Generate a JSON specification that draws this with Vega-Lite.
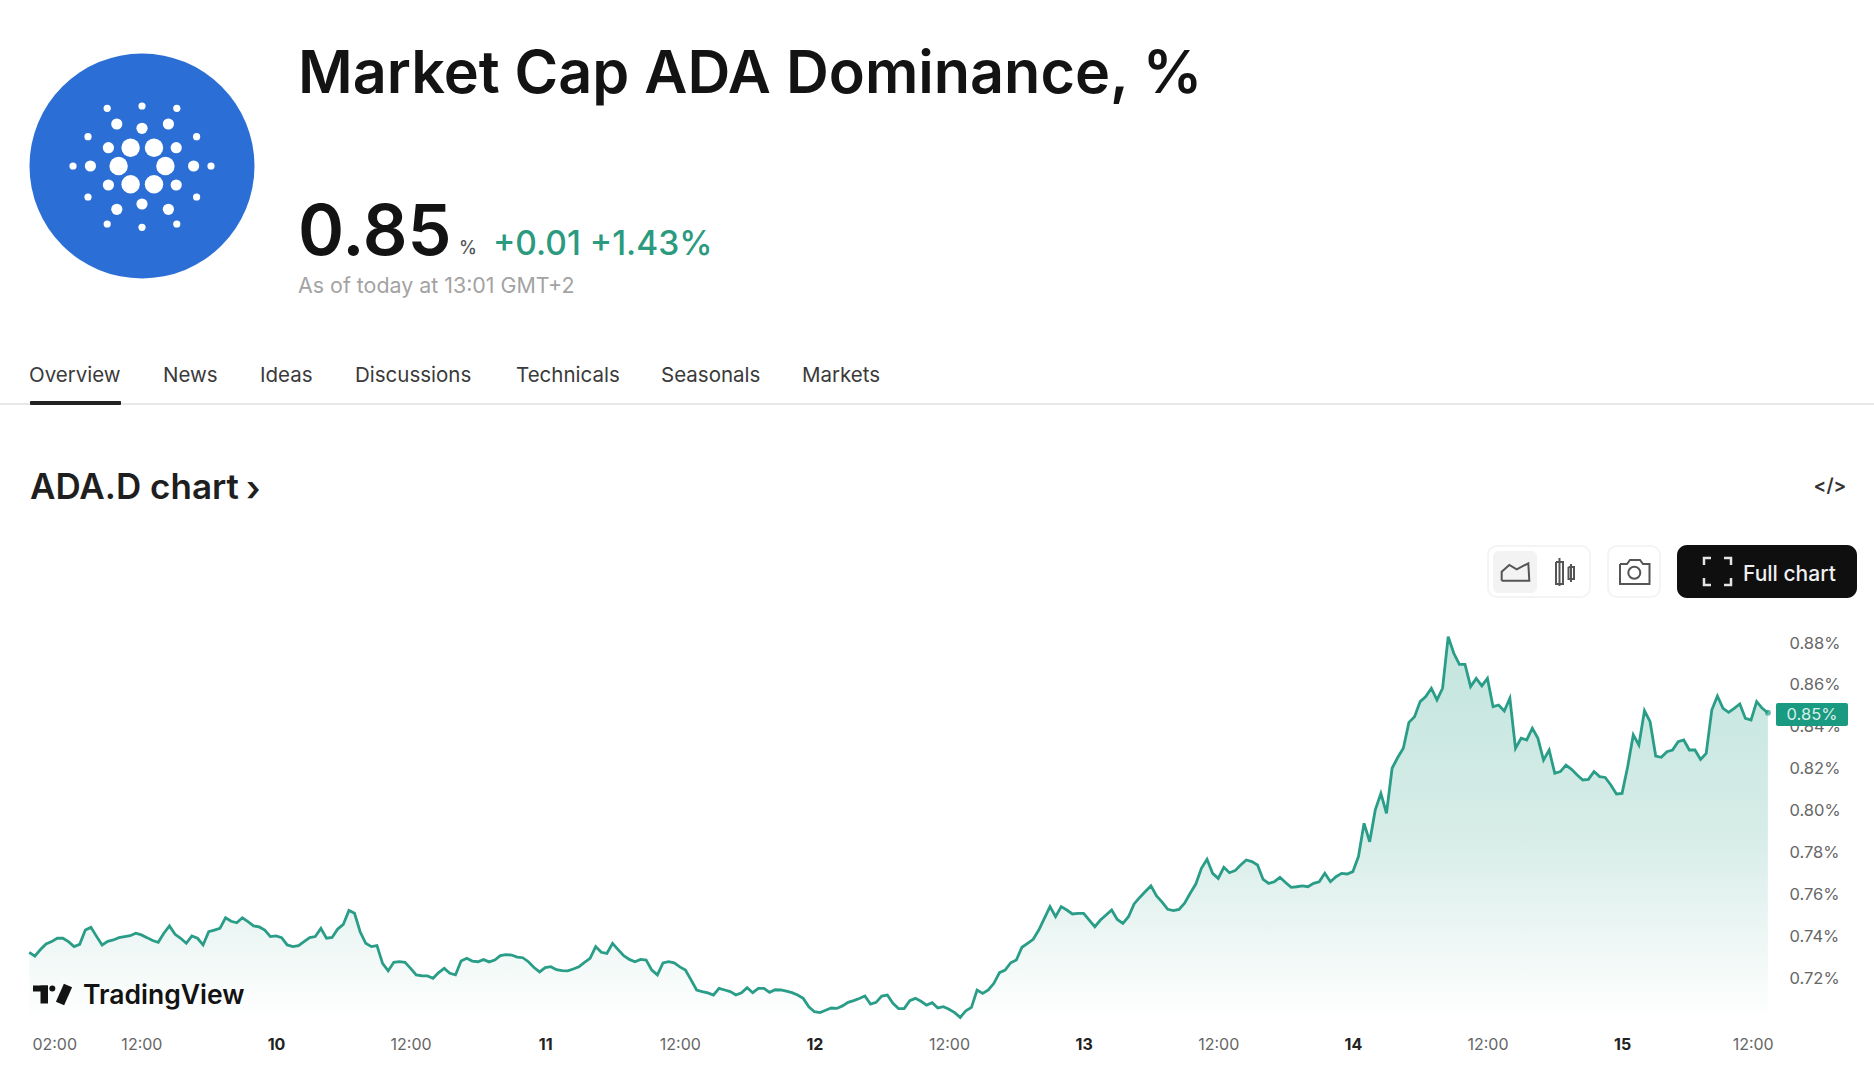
{
  "$schema": "https://vega.github.io/schema/vega-lite/v6.json",
  "width": 1874,
  "height": 1080,
  "autosize": {"type": "fit", "contains": "padding"},
  "padding": 0,
  "background": "#ffffff",
  "config": {"view": {"stroke": null}, "font": "Inter"},
  "datasets": {
    "series": [
      {"t":"2024-10-09T02:00Z","v":0.7323},{"t":"2024-10-09T02:30Z","v":0.7305},{"t":"2024-10-09T03:00Z","v":0.7336},{"t":"2024-10-09T03:30Z","v":0.7363},{"t":"2024-10-09T04:00Z","v":0.7374},{"t":"2024-10-09T04:30Z","v":0.7390},{"t":"2024-10-09T05:00Z","v":0.7390},{"t":"2024-10-09T05:30Z","v":0.7374},{"t":"2024-10-09T06:00Z","v":0.7350},{"t":"2024-10-09T06:30Z","v":0.7361},{"t":"2024-10-09T07:00Z","v":0.7429},{"t":"2024-10-09T07:30Z","v":0.7442},{"t":"2024-10-09T08:00Z","v":0.7399},{"t":"2024-10-09T08:30Z","v":0.7358},{"t":"2024-10-09T09:00Z","v":0.7375},{"t":"2024-10-09T09:30Z","v":0.7382},{"t":"2024-10-09T10:00Z","v":0.7393},{"t":"2024-10-09T10:30Z","v":0.7398},{"t":"2024-10-09T11:00Z","v":0.7402},{"t":"2024-10-09T11:30Z","v":0.7414},{"t":"2024-10-09T12:00Z","v":0.7406},{"t":"2024-10-09T12:30Z","v":0.7393},{"t":"2024-10-09T13:00Z","v":0.7379},{"t":"2024-10-09T13:30Z","v":0.7371},{"t":"2024-10-09T14:00Z","v":0.7414},{"t":"2024-10-09T14:30Z","v":0.7449},{"t":"2024-10-09T15:00Z","v":0.7409},{"t":"2024-10-09T15:30Z","v":0.7390},{"t":"2024-10-09T16:00Z","v":0.7366},{"t":"2024-10-09T16:30Z","v":0.7401},{"t":"2024-10-09T17:00Z","v":0.7390},{"t":"2024-10-09T17:30Z","v":0.7358},{"t":"2024-10-09T18:00Z","v":0.7421},{"t":"2024-10-09T18:30Z","v":0.7429},{"t":"2024-10-09T19:00Z","v":0.7437},{"t":"2024-10-09T19:30Z","v":0.7488},{"t":"2024-10-09T20:00Z","v":0.7471},{"t":"2024-10-09T20:30Z","v":0.7464},{"t":"2024-10-09T21:00Z","v":0.7488},{"t":"2024-10-09T21:30Z","v":0.7469},{"t":"2024-10-09T22:00Z","v":0.7449},{"t":"2024-10-09T22:30Z","v":0.7444},{"t":"2024-10-09T23:00Z","v":0.7429},{"t":"2024-10-09T23:30Z","v":0.7398},
      {"t":"2024-10-10T00:00Z","v":0.7401},{"t":"2024-10-10T00:30Z","v":0.7393},{"t":"2024-10-10T01:00Z","v":0.7358},{"t":"2024-10-10T01:30Z","v":0.7350},{"t":"2024-10-10T02:00Z","v":0.7355},{"t":"2024-10-10T02:30Z","v":0.7374},{"t":"2024-10-10T03:00Z","v":0.7393},{"t":"2024-10-10T03:30Z","v":0.7398},{"t":"2024-10-10T04:00Z","v":0.7437},{"t":"2024-10-10T04:30Z","v":0.7390},{"t":"2024-10-10T05:00Z","v":0.7394},{"t":"2024-10-10T05:30Z","v":0.7434},{"t":"2024-10-10T06:00Z","v":0.7456},{"t":"2024-10-10T06:30Z","v":0.7523},{"t":"2024-10-10T07:00Z","v":0.7509},{"t":"2024-10-10T07:30Z","v":0.7421},{"t":"2024-10-10T08:00Z","v":0.7366},{"t":"2024-10-10T08:30Z","v":0.7350},{"t":"2024-10-10T09:00Z","v":0.7355},{"t":"2024-10-10T09:30Z","v":0.7270},{"t":"2024-10-10T10:00Z","v":0.7234},{"t":"2024-10-10T10:30Z","v":0.7275},{"t":"2024-10-10T11:00Z","v":0.7278},{"t":"2024-10-10T11:30Z","v":0.7275},{"t":"2024-10-10T12:00Z","v":0.7246},{"t":"2024-10-10T12:30Z","v":0.7215},{"t":"2024-10-10T13:00Z","v":0.7211},{"t":"2024-10-10T13:30Z","v":0.7210},{"t":"2024-10-10T14:00Z","v":0.7199},{"t":"2024-10-10T14:30Z","v":0.7226},{"t":"2024-10-10T15:00Z","v":0.7246},{"t":"2024-10-10T15:30Z","v":0.7223},{"t":"2024-10-10T16:00Z","v":0.7215},{"t":"2024-10-10T16:30Z","v":0.7281},{"t":"2024-10-10T17:00Z","v":0.7294},{"t":"2024-10-10T17:30Z","v":0.7281},{"t":"2024-10-10T18:00Z","v":0.7278},{"t":"2024-10-10T18:30Z","v":0.7288},{"t":"2024-10-10T19:00Z","v":0.7277},{"t":"2024-10-10T19:30Z","v":0.7286},{"t":"2024-10-10T20:00Z","v":0.7307},{"t":"2024-10-10T20:30Z","v":0.7312},{"t":"2024-10-10T21:00Z","v":0.7310},{"t":"2024-10-10T21:30Z","v":0.7300},{"t":"2024-10-10T22:00Z","v":0.7297},{"t":"2024-10-10T22:30Z","v":0.7278},{"t":"2024-10-10T23:00Z","v":0.7250},{"t":"2024-10-10T23:30Z","v":0.7229},
      {"t":"2024-10-11T00:00Z","v":0.7250},{"t":"2024-10-11T00:30Z","v":0.7254},{"t":"2024-10-11T01:00Z","v":0.7240},{"t":"2024-10-11T01:30Z","v":0.7235},{"t":"2024-10-11T02:00Z","v":0.7234},{"t":"2024-10-11T02:30Z","v":0.7243},{"t":"2024-10-11T03:00Z","v":0.7254},{"t":"2024-10-11T03:30Z","v":0.7275},{"t":"2024-10-11T04:00Z","v":0.7294},{"t":"2024-10-11T04:30Z","v":0.7350},{"t":"2024-10-11T05:00Z","v":0.7323},{"t":"2024-10-11T05:30Z","v":0.7318},{"t":"2024-10-11T06:00Z","v":0.7366},{"t":"2024-10-11T06:30Z","v":0.7336},{"t":"2024-10-11T07:00Z","v":0.7307},{"t":"2024-10-11T07:30Z","v":0.7289},{"t":"2024-10-11T08:00Z","v":0.7278},{"t":"2024-10-11T08:30Z","v":0.7289},{"t":"2024-10-11T09:00Z","v":0.7286},{"t":"2024-10-11T09:30Z","v":0.7238},{"t":"2024-10-11T10:00Z","v":0.7215},{"t":"2024-10-11T10:30Z","v":0.7272},{"t":"2024-10-11T11:00Z","v":0.7278},{"t":"2024-10-11T11:30Z","v":0.7273},{"t":"2024-10-11T12:00Z","v":0.7253},{"t":"2024-10-11T12:30Z","v":0.7238},{"t":"2024-10-11T13:00Z","v":0.7191},{"t":"2024-10-11T13:30Z","v":0.7143},{"t":"2024-10-11T14:00Z","v":0.7135},{"t":"2024-10-11T14:30Z","v":0.7129},{"t":"2024-10-11T15:00Z","v":0.7119},{"t":"2024-10-11T15:30Z","v":0.7151},{"t":"2024-10-11T16:00Z","v":0.7143},{"t":"2024-10-11T16:30Z","v":0.7135},{"t":"2024-10-11T17:00Z","v":0.7119},{"t":"2024-10-11T17:30Z","v":0.7130},{"t":"2024-10-11T18:00Z","v":0.7154},{"t":"2024-10-11T18:30Z","v":0.7130},{"t":"2024-10-11T19:00Z","v":0.7151},{"t":"2024-10-11T19:30Z","v":0.7151},{"t":"2024-10-11T20:00Z","v":0.7132},{"t":"2024-10-11T20:30Z","v":0.7144},{"t":"2024-10-11T21:00Z","v":0.7143},{"t":"2024-10-11T21:30Z","v":0.7137},{"t":"2024-10-11T22:00Z","v":0.7130},{"t":"2024-10-11T22:30Z","v":0.7119},{"t":"2024-10-11T23:00Z","v":0.7103},{"t":"2024-10-11T23:30Z","v":0.7063},
      {"t":"2024-10-12T00:00Z","v":0.7039},{"t":"2024-10-12T00:30Z","v":0.7035},{"t":"2024-10-12T01:00Z","v":0.7046},{"t":"2024-10-12T01:30Z","v":0.7057},{"t":"2024-10-12T02:00Z","v":0.7055},{"t":"2024-10-12T02:30Z","v":0.7067},{"t":"2024-10-12T03:00Z","v":0.7084},{"t":"2024-10-12T03:30Z","v":0.7092},{"t":"2024-10-12T04:00Z","v":0.7102},{"t":"2024-10-12T04:30Z","v":0.7114},{"t":"2024-10-12T05:00Z","v":0.7076},{"t":"2024-10-12T05:30Z","v":0.7084},{"t":"2024-10-12T06:00Z","v":0.7114},{"t":"2024-10-12T06:30Z","v":0.7119},{"t":"2024-10-12T07:00Z","v":0.7079},{"t":"2024-10-12T07:30Z","v":0.7054},{"t":"2024-10-12T08:00Z","v":0.7054},{"t":"2024-10-12T08:30Z","v":0.7092},{"t":"2024-10-12T09:00Z","v":0.7103},{"t":"2024-10-12T09:30Z","v":0.7089},{"t":"2024-10-12T10:00Z","v":0.7071},{"t":"2024-10-12T10:30Z","v":0.7082},{"t":"2024-10-12T11:00Z","v":0.7057},{"t":"2024-10-12T11:30Z","v":0.7063},{"t":"2024-10-12T12:00Z","v":0.7051},{"t":"2024-10-12T12:30Z","v":0.7035},{"t":"2024-10-12T13:00Z","v":0.7012},{"t":"2024-10-12T13:30Z","v":0.7044},{"t":"2024-10-12T14:00Z","v":0.7060},{"t":"2024-10-12T14:30Z","v":0.7143},{"t":"2024-10-12T15:00Z","v":0.7127},{"t":"2024-10-12T15:30Z","v":0.7143},{"t":"2024-10-12T16:00Z","v":0.7175},{"t":"2024-10-12T16:30Z","v":0.7226},{"t":"2024-10-12T17:00Z","v":0.7238},{"t":"2024-10-12T17:30Z","v":0.7273},{"t":"2024-10-12T18:00Z","v":0.7286},{"t":"2024-10-12T18:30Z","v":0.7347},{"t":"2024-10-12T19:00Z","v":0.7366},{"t":"2024-10-12T19:30Z","v":0.7385},{"t":"2024-10-12T20:00Z","v":0.7429},{"t":"2024-10-12T20:30Z","v":0.7485},{"t":"2024-10-12T21:00Z","v":0.7541},{"t":"2024-10-12T21:30Z","v":0.7493},{"t":"2024-10-12T22:00Z","v":0.7541},{"t":"2024-10-12T22:30Z","v":0.7525},{"t":"2024-10-12T23:00Z","v":0.7506},{"t":"2024-10-12T23:30Z","v":0.7509},
      {"t":"2024-10-13T00:00Z","v":0.7509},{"t":"2024-10-13T00:30Z","v":0.7477},{"t":"2024-10-13T01:00Z","v":0.7445},{"t":"2024-10-13T01:30Z","v":0.7477},{"t":"2024-10-13T02:00Z","v":0.7501},{"t":"2024-10-13T02:30Z","v":0.7525},{"t":"2024-10-13T03:00Z","v":0.7480},{"t":"2024-10-13T03:30Z","v":0.7461},{"t":"2024-10-13T04:00Z","v":0.7493},{"t":"2024-10-13T04:30Z","v":0.7554},{"t":"2024-10-13T05:00Z","v":0.7585},{"t":"2024-10-13T05:30Z","v":0.7613},{"t":"2024-10-13T06:00Z","v":0.7640},{"t":"2024-10-13T06:30Z","v":0.7592},{"t":"2024-10-13T07:00Z","v":0.7563},{"t":"2024-10-13T07:30Z","v":0.7528},{"t":"2024-10-13T08:00Z","v":0.7522},{"t":"2024-10-13T08:30Z","v":0.7528},{"t":"2024-10-13T09:00Z","v":0.7557},{"t":"2024-10-13T09:30Z","v":0.7605},{"t":"2024-10-13T10:00Z","v":0.7649},{"t":"2024-10-13T10:30Z","v":0.7724},{"t":"2024-10-13T11:00Z","v":0.7767},{"t":"2024-10-13T11:30Z","v":0.7700},{"t":"2024-10-13T12:00Z","v":0.7676},{"t":"2024-10-13T12:30Z","v":0.7729},{"t":"2024-10-13T13:00Z","v":0.7703},{"t":"2024-10-13T13:30Z","v":0.7713},{"t":"2024-10-13T14:00Z","v":0.7740},{"t":"2024-10-13T14:30Z","v":0.7764},{"t":"2024-10-13T15:00Z","v":0.7756},{"t":"2024-10-13T15:30Z","v":0.7740},{"t":"2024-10-13T16:00Z","v":0.7671},{"t":"2024-10-13T16:30Z","v":0.7652},{"t":"2024-10-13T17:00Z","v":0.7660},{"t":"2024-10-13T17:30Z","v":0.7681},{"t":"2024-10-13T18:00Z","v":0.7656},{"t":"2024-10-13T18:30Z","v":0.7633},{"t":"2024-10-13T19:00Z","v":0.7636},{"t":"2024-10-13T19:30Z","v":0.7640},{"t":"2024-10-13T20:00Z","v":0.7636},{"t":"2024-10-13T20:30Z","v":0.7652},{"t":"2024-10-13T21:00Z","v":0.7660},{"t":"2024-10-13T21:30Z","v":0.7700},{"t":"2024-10-13T22:00Z","v":0.7660},{"t":"2024-10-13T22:30Z","v":0.7684},{"t":"2024-10-13T23:00Z","v":0.7700},{"t":"2024-10-13T23:30Z","v":0.7697},
      {"t":"2024-10-14T00:00Z","v":0.7708},{"t":"2024-10-14T00:30Z","v":0.7780},{"t":"2024-10-14T01:00Z","v":0.7939},{"t":"2024-10-14T01:30Z","v":0.7851},{"t":"2024-10-14T02:00Z","v":0.8003},{"t":"2024-10-14T02:30Z","v":0.8082},{"t":"2024-10-14T03:00Z","v":0.7987},{"t":"2024-10-14T03:30Z","v":0.8202},{"t":"2024-10-14T04:00Z","v":0.8253},{"t":"2024-10-14T04:30Z","v":0.8297},{"t":"2024-10-14T05:00Z","v":0.8421},{"t":"2024-10-14T05:30Z","v":0.8448},{"t":"2024-10-14T06:00Z","v":0.8520},{"t":"2024-10-14T06:30Z","v":0.8544},{"t":"2024-10-14T07:00Z","v":0.8584},{"t":"2024-10-14T07:30Z","v":0.8528},{"t":"2024-10-14T08:00Z","v":0.8584},{"t":"2024-10-14T08:30Z","v":0.8830},{"t":"2024-10-14T09:00Z","v":0.8751},{"t":"2024-10-14T09:30Z","v":0.8698},{"t":"2024-10-14T10:00Z","v":0.8698},{"t":"2024-10-14T10:30Z","v":0.8592},{"t":"2024-10-14T11:00Z","v":0.8631},{"t":"2024-10-14T11:30Z","v":0.8595},{"t":"2024-10-14T12:00Z","v":0.8631},{"t":"2024-10-14T12:30Z","v":0.8496},{"t":"2024-10-14T13:00Z","v":0.8504},{"t":"2024-10-14T13:30Z","v":0.8475},{"t":"2024-10-14T14:00Z","v":0.8536},{"t":"2024-10-14T14:30Z","v":0.8297},{"t":"2024-10-14T15:00Z","v":0.8345},{"t":"2024-10-14T15:30Z","v":0.8337},{"t":"2024-10-14T16:00Z","v":0.8393},{"t":"2024-10-14T16:30Z","v":0.8345},{"t":"2024-10-14T17:00Z","v":0.8241},{"t":"2024-10-14T17:30Z","v":0.8289},{"t":"2024-10-14T18:00Z","v":0.8178},{"t":"2024-10-14T18:30Z","v":0.8186},{"t":"2024-10-14T19:00Z","v":0.8217},{"t":"2024-10-14T19:30Z","v":0.8197},{"t":"2024-10-14T20:00Z","v":0.8170},{"t":"2024-10-14T20:30Z","v":0.8146},{"t":"2024-10-14T21:00Z","v":0.8149},{"t":"2024-10-14T21:30Z","v":0.8186},{"t":"2024-10-14T22:00Z","v":0.8162},{"t":"2024-10-14T22:30Z","v":0.8158},{"t":"2024-10-14T23:00Z","v":0.8122},{"t":"2024-10-14T23:30Z","v":0.8079},
      {"t":"2024-10-15T00:00Z","v":0.8082},{"t":"2024-10-15T00:30Z","v":0.8209},{"t":"2024-10-15T01:00Z","v":0.8361},{"t":"2024-10-15T01:30Z","v":0.8313},{"t":"2024-10-15T02:00Z","v":0.8477},{"t":"2024-10-15T02:30Z","v":0.8424},{"t":"2024-10-15T03:00Z","v":0.8260},{"t":"2024-10-15T03:30Z","v":0.8254},{"t":"2024-10-15T04:00Z","v":0.8281},{"t":"2024-10-15T04:30Z","v":0.8289},{"t":"2024-10-15T05:00Z","v":0.8329},{"t":"2024-10-15T05:30Z","v":0.8337},{"t":"2024-10-15T06:00Z","v":0.8289},{"t":"2024-10-15T06:30Z","v":0.8289},{"t":"2024-10-15T07:00Z","v":0.8244},{"t":"2024-10-15T07:30Z","v":0.8273},{"t":"2024-10-15T08:00Z","v":0.8480},{"t":"2024-10-15T08:30Z","v":0.8547},{"t":"2024-10-15T09:00Z","v":0.8488},{"t":"2024-10-15T09:30Z","v":0.8469},{"t":"2024-10-15T10:00Z","v":0.8488},{"t":"2024-10-15T10:30Z","v":0.8509},{"t":"2024-10-15T11:00Z","v":0.8440},{"t":"2024-10-15T11:30Z","v":0.8432},{"t":"2024-10-15T12:00Z","v":0.8520},{"t":"2024-10-15T12:30Z","v":0.8488},{"t":"2024-10-15T13:00Z","v":0.8467}
    ],
    "texts": [
      {"role":"title","label":"Market Cap ADA Dominance, %","px":298,"py":93},
      {"role":"price","label":"0.85","px":298,"py":255},
      {"role":"unit","label":"%","px":459,"py":254},
      {"role":"change","label":"+0.01 +1.43%","px":493,"py":255},
      {"role":"asof","label":"As of today at 13:01 GMT+2","px":298,"py":293},
      {"role":"tab","label":"Overview","px":29,"py":382},
      {"role":"tab","label":"News","px":163,"py":382},
      {"role":"tab","label":"Ideas","px":260,"py":382},
      {"role":"tab","label":"Discussions","px":355,"py":382},
      {"role":"tab","label":"Technicals","px":516,"py":382},
      {"role":"tab","label":"Seasonals","px":661,"py":382},
      {"role":"tab","label":"Markets","px":802,"py":382},
      {"role":"section","label":"ADA.D chart","px":30,"py":499},
      {"role":"section","label":"›","px":246,"py":501},
      {"role":"embed","label":"</>","px":1830,"py":492},
      {"role":"button","label":"Full chart","px":1743,"py":581},
      {"role":"brand","label":"TradingView","px":83,"py":1004},
      {"role":"badge","label":"0.85%","px":1812,"py":720}
    ],
    "boxes": [
      {"role":"divider","px":0,"px2":1874,"py":403,"py2":405},
      {"role":"underline","px":30,"px2":121,"py":401,"py2":405},
      {"role":"outline","px":1488,"px2":1590,"py":546,"py2":597},
      {"role":"outline","px":1608,"px2":1660,"py":546,"py2":597},
      {"role":"selected","px":1493,"px2":1537,"py":551,"py2":593},
      {"role":"dark","px":1677,"px2":1857,"py":545,"py2":598},
      {"role":"badge","px":1776,"px2":1848,"py":703,"py2":726},
      {"role":"logo","px":33,"px2":48,"py":985.5,"py2":991.5},
      {"role":"logo","px":40.5,"px2":48,"py":985.5,"py2":1003.5}
    ],
    "logo": [
      {"kind":"disc","px":142,"py":166},
      {"kind":"big","px":130.6,"py":147.7},{"kind":"big","px":154,"py":147.7},{"kind":"big","px":118.6,"py":166},{"kind":"big","px":165.4,"py":166},{"kind":"big","px":130.6,"py":184.3},{"kind":"big","px":154,"py":184.3},
      {"kind":"medium","px":108.4,"py":147.7},{"kind":"medium","px":176.2,"py":147.7},{"kind":"medium","px":90.4,"py":166},{"kind":"medium","px":193.6,"py":166},{"kind":"medium","px":108.4,"py":185},{"kind":"medium","px":176.2,"py":185},{"kind":"medium","px":116.8,"py":124},{"kind":"medium","px":168.4,"py":124},{"kind":"medium","px":142,"py":128.3},{"kind":"medium","px":142,"py":204},{"kind":"medium","px":116.8,"py":209.3},{"kind":"medium","px":168.4,"py":209.3},
      {"kind":"small","px":88,"py":136.7},{"kind":"small","px":196.6,"py":136.7},{"kind":"small","px":88,"py":197},{"kind":"small","px":196.6,"py":197},{"kind":"small","px":73,"py":166},{"kind":"small","px":211,"py":166},{"kind":"small","px":107.2,"py":108.3},{"kind":"small","px":176.8,"py":108.3},{"kind":"small","px":142,"py":106},{"kind":"small","px":142,"py":227.3},{"kind":"small","px":107.2,"py":224},{"kind":"small","px":176.8,"py":224}
    ],
    "strokes": [
      {"set":"icon","part":"area","px":1501.7,"py":580.7},{"set":"icon","part":"area","px":1501.7,"py":571.7},{"set":"icon","part":"area","px":1509.3,"py":565},{"set":"icon","part":"area","px":1516.7,"py":569.3},{"set":"icon","part":"area","px":1528.3,"py":563.3},{"set":"icon","part":"area","px":1529.3,"py":580.7},{"set":"icon","part":"area","px":1501.7,"py":580.7},
      {"set":"icon","part":"candleL","px":1556,"py":562},{"set":"icon","part":"candleL","px":1563,"py":562},{"set":"icon","part":"candleL","px":1563,"py":584},{"set":"icon","part":"candleL","px":1556,"py":584},{"set":"icon","part":"candleL","px":1556,"py":562},
      {"set":"icon","part":"wickL","px":1559.5,"py":558},{"set":"icon","part":"wickL","px":1559.5,"py":586},
      {"set":"icon","part":"candleR","px":1568.5,"py":567},{"set":"icon","part":"candleR","px":1574,"py":567},{"set":"icon","part":"candleR","px":1574,"py":579},{"set":"icon","part":"candleR","px":1568.5,"py":579},{"set":"icon","part":"candleR","px":1568.5,"py":567},
      {"set":"icon","part":"wickR","px":1571,"py":564},{"set":"icon","part":"wickR","px":1571,"py":582},
      {"set":"icon","part":"camera","px":1620,"py":564},{"set":"icon","part":"camera","px":1627,"py":564},{"set":"icon","part":"camera","px":1630,"py":560},{"set":"icon","part":"camera","px":1640,"py":560},{"set":"icon","part":"camera","px":1643,"py":564},{"set":"icon","part":"camera","px":1649.5,"py":564},{"set":"icon","part":"camera","px":1649.5,"py":584},{"set":"icon","part":"camera","px":1620,"py":584},{"set":"icon","part":"camera","px":1620,"py":564},
      {"set":"corner","part":"tl","px":1704,"py":565},{"set":"corner","part":"tl","px":1704,"py":558},{"set":"corner","part":"tl","px":1711,"py":558},
      {"set":"corner","part":"tr","px":1724,"py":558},{"set":"corner","part":"tr","px":1731,"py":558},{"set":"corner","part":"tr","px":1731,"py":565},
      {"set":"corner","part":"bl","px":1704,"py":578},{"set":"corner","part":"bl","px":1704,"py":585},{"set":"corner","part":"bl","px":1711,"py":585},
      {"set":"corner","part":"br","px":1724,"py":585},{"set":"corner","part":"br","px":1731,"py":585},{"set":"corner","part":"br","px":1731,"py":578},
      {"set":"slash","part":"v","px":68,"py":985.5},{"set":"slash","part":"v","px":60,"py":1003.5}
    ]
  },
  "layer": [
    {
      "data": {"name": "series"},
      "encoding": {
        "x": {
          "field": "t",
          "type": "temporal",
          "title": null,
          "scale": {"type": "utc", "domain": ["2024-10-08T23:23:38Z", "2024-10-15T22:27:40Z"]},
          "axis": {
            "orient": "bottom",
            "offset": -46,
            "grid": false,
            "domain": false,
            "ticks": false,
            "labelPadding": 2,
            "labelFont": "Inter",
            "labelFontSize": 16,
            "labelOverlap": false,
            "labelBound": false,
            "labelFlush": false,
            "values": ["2024-10-09T02:00:00Z","2024-10-09T12:00:00Z","2024-10-10T00:00:00Z","2024-10-10T12:00:00Z","2024-10-11T00:00:00Z","2024-10-11T12:00:00Z","2024-10-12T00:00:00Z","2024-10-12T12:00:00Z","2024-10-13T00:00:00Z","2024-10-13T12:00:00Z","2024-10-14T00:00:00Z","2024-10-14T12:00:00Z","2024-10-15T00:00:00Z","2024-10-15T12:00:00Z"],
            "labelExpr": "utchours(datum.value) === 0 ? utcFormat(datum.value, '%-d') : utcFormat(datum.value, '%H:%M')",
            "labelFontWeight": {"condition": {"test": "utchours(datum.value) === 0", "value": "bold"}, "value": "normal"},
            "labelColor": {"condition": {"test": "utchours(datum.value) === 0", "value": "#222222"}, "value": "#666666"},
            "labelOffset": {"condition": [{"test": "utchours(datum.value) === 2", "value": 25}, {"test": "utcdate(datum.value) === 15 && utchours(datum.value) === 12", "value": -4}], "value": 0}
          }
        },
        "y": {
          "field": "v",
          "type": "quantitative",
          "title": null,
          "scale": {"domain": [0.67131, 1.18707], "nice": false, "zero": false},
          "axis": {
            "orient": "right",
            "offset": -85,
            "grid": false,
            "domain": false,
            "ticks": false,
            "labelPadding": 0,
            "labelAlign": "left",
            "labelFont": "Inter",
            "labelFontSize": 16.5,
            "labelColor": "#666666",
            "values": [0.72, 0.74, 0.76, 0.78, 0.80, 0.82, 0.84, 0.86, 0.88],
            "labelExpr": "format(datum.value, '.2f') + '%'"
          }
        }
      },
      "layer": [
        {
          "mark": {
            "type": "area",
            "color": {
              "gradient": "linear",
              "x1": 1, "y1": 0, "x2": 1, "y2": 1,
              "stops": [
                {"offset": 0, "color": "#c3e5de"},
                {"offset": 0.5, "color": "#d6ece7"},
                {"offset": 1, "color": "#ffffff"}
              ]
            }
          },
          "encoding": {"y2": {"datum": 0.6997}}
        },
        {"mark": {"type": "line", "color": "#2a9d88", "strokeWidth": 2.8}},
        {
          "data": {"values": [{"t": "2024-10-15T13:00Z", "v": 0.8467}]},
          "mark": {"type": "circle", "color": "#2a9d88", "size": 36}
        }
      ]
    },
    {
      "encoding": {
        "x": {"field": "px", "type": "quantitative", "scale": {"domain": [0, 1874], "nice": false, "zero": false}, "axis": null},
        "y": {"field": "py", "type": "quantitative", "scale": {"domain": [1080, 0], "nice": false, "zero": false}, "axis": null}
      },
      "layer": [
        {
          "data": {"name": "logo"},
          "transform": [{"filter": "datum.kind === 'disc'"}],
          "mark": {"type": "circle", "color": "#2b6fd6", "size": 50625, "opacity": 1}
        },
        {
          "data": {"name": "logo"},
          "transform": [{"filter": "datum.kind === 'big'"}],
          "mark": {"type": "circle", "color": "#ffffff", "size": 340, "opacity": 1}
        },
        {
          "data": {"name": "logo"},
          "transform": [{"filter": "datum.kind === 'medium'"}],
          "mark": {"type": "circle", "color": "#ffffff", "size": 125, "opacity": 1}
        },
        {
          "data": {"name": "logo"},
          "transform": [{"filter": "datum.kind === 'small'"}],
          "mark": {"type": "circle", "color": "#ffffff", "size": 52, "opacity": 1}
        },
        {
          "data": {"name": "boxes"},
          "transform": [{"filter": "datum.role === 'divider'"}],
          "mark": {"type": "rect", "color": "#e8e8e8"},
          "encoding": {"x2": {"field": "px2"}, "y2": {"field": "py2"}}
        },
        {
          "data": {"name": "boxes"},
          "transform": [{"filter": "datum.role === 'underline'"}],
          "mark": {"type": "rect", "color": "#222222", "cornerRadius": 1},
          "encoding": {"x2": {"field": "px2"}, "y2": {"field": "py2"}}
        },
        {
          "data": {"name": "boxes"},
          "transform": [{"filter": "datum.role === 'outline'"}],
          "mark": {"type": "rect", "fill": "#ffffff", "stroke": "#f4f4f4", "strokeWidth": 2, "cornerRadius": 9},
          "encoding": {"x2": {"field": "px2"}, "y2": {"field": "py2"}}
        },
        {
          "data": {"name": "boxes"},
          "transform": [{"filter": "datum.role === 'selected'"}],
          "mark": {"type": "rect", "color": "#f3f3f3", "cornerRadius": 6},
          "encoding": {"x2": {"field": "px2"}, "y2": {"field": "py2"}}
        },
        {
          "data": {"name": "boxes"},
          "transform": [{"filter": "datum.role === 'dark'"}],
          "mark": {"type": "rect", "color": "#0f0f0f", "cornerRadius": 10},
          "encoding": {"x2": {"field": "px2"}, "y2": {"field": "py2"}}
        },
        {
          "data": {"name": "boxes"},
          "transform": [{"filter": "datum.role === 'badge'"}],
          "mark": {"type": "rect", "color": "#1a9a80", "cornerRadius": 2},
          "encoding": {"x2": {"field": "px2"}, "y2": {"field": "py2"}}
        },
        {
          "data": {"name": "boxes"},
          "transform": [{"filter": "datum.role === 'logo'"}],
          "mark": {"type": "rect", "color": "#131313"},
          "encoding": {"x2": {"field": "px2"}, "y2": {"field": "py2"}}
        },
        {
          "data": {"name": "strokes"},
          "transform": [{"filter": "datum.set === 'icon'"}],
          "mark": {"type": "line", "color": "#555555", "strokeWidth": 2},
          "encoding": {"detail": {"field": "part"}, "order": {"value": null}}
        },
        {
          "data": {"name": "strokes"},
          "transform": [{"filter": "datum.set === 'corner'"}],
          "mark": {"type": "line", "color": "#e4e4e4", "strokeWidth": 2.5},
          "encoding": {"detail": {"field": "part"}, "order": {"value": null}}
        },
        {
          "data": {"name": "strokes"},
          "transform": [{"filter": "datum.set === 'slash'"}],
          "mark": {"type": "line", "color": "#131313", "strokeWidth": 9},
          "encoding": {"detail": {"field": "part"}, "order": {"value": null}}
        },
        {
          "data": {"values": [{"px": 1634.3, "py": 572.7}]},
          "mark": {"type": "point", "shape": "circle", "filled": false, "color": "#555555", "strokeWidth": 2, "size": 144, "opacity": 1}
        },
        {
          "data": {"values": [{"px": 52.3, "py": 988.5}]},
          "mark": {"type": "circle", "color": "#131313", "size": 36, "opacity": 1}
        },
        {
          "data": {"name": "texts"},
          "transform": [{"filter": "datum.role === 'title'"}],
          "mark": {"type": "text", "font": "Inter", "fontSize": 59.3, "fontWeight": 600, "color": "#131313", "align": "left", "baseline": "alphabetic"},
          "encoding": {"text": {"field": "label"}}
        },
        {
          "data": {"name": "texts"},
          "transform": [{"filter": "datum.role === 'price'"}],
          "mark": {"type": "text", "font": "Inter", "fontSize": 70, "fontWeight": 600, "color": "#131313", "align": "left", "baseline": "alphabetic"},
          "encoding": {"text": {"field": "label"}}
        },
        {
          "data": {"name": "texts"},
          "transform": [{"filter": "datum.role === 'unit'"}],
          "mark": {"type": "text", "font": "Inter", "fontSize": 18, "fontWeight": 500, "color": "#555555", "align": "left", "baseline": "alphabetic"},
          "encoding": {"text": {"field": "label"}}
        },
        {
          "data": {"name": "texts"},
          "transform": [{"filter": "datum.role === 'change'"}],
          "mark": {"type": "text", "font": "Inter", "fontSize": 33.5, "fontWeight": 500, "color": "#2b9a7f", "align": "left", "baseline": "alphabetic"},
          "encoding": {"text": {"field": "label"}}
        },
        {
          "data": {"name": "texts"},
          "transform": [{"filter": "datum.role === 'asof'"}],
          "mark": {"type": "text", "font": "Inter", "fontSize": 21.4, "color": "#a3a3a3", "align": "left", "baseline": "alphabetic"},
          "encoding": {"text": {"field": "label"}}
        },
        {
          "data": {"name": "texts"},
          "transform": [{"filter": "datum.role === 'tab'"}],
          "mark": {"type": "text", "font": "Inter", "fontSize": 20.5, "color": "#3a3a3a", "align": "left", "baseline": "alphabetic"},
          "encoding": {"text": {"field": "label"}}
        },
        {
          "data": {"name": "texts"},
          "transform": [{"filter": "datum.role === 'section'"}],
          "mark": {"type": "text", "font": "Inter", "fontSize": 35, "fontWeight": 600, "color": "#1f1f1f", "align": "left", "baseline": "alphabetic"},
          "encoding": {"text": {"field": "label"}}
        },
        {
          "data": {"name": "texts"},
          "transform": [{"filter": "datum.role === 'embed'"}],
          "mark": {"type": "text", "font": "Inter", "fontSize": 19, "fontWeight": 600, "color": "#333333", "align": "center", "baseline": "alphabetic"},
          "encoding": {"text": {"field": "label"}}
        },
        {
          "data": {"name": "texts"},
          "transform": [{"filter": "datum.role === 'button'"}],
          "mark": {"type": "text", "font": "Inter", "fontSize": 21, "fontWeight": 500, "color": "#f0f0f0", "align": "left", "baseline": "alphabetic"},
          "encoding": {"text": {"field": "label"}}
        },
        {
          "data": {"name": "texts"},
          "transform": [{"filter": "datum.role === 'brand'"}],
          "mark": {"type": "text", "font": "Inter", "fontSize": 26.5, "fontWeight": 600, "color": "#131313", "align": "left", "baseline": "alphabetic"},
          "encoding": {"text": {"field": "label"}}
        },
        {
          "data": {"name": "texts"},
          "transform": [{"filter": "datum.role === 'badge'"}],
          "mark": {"type": "text", "font": "Inter", "fontSize": 16.5, "color": "#d8efe9", "align": "center", "baseline": "alphabetic"},
          "encoding": {"text": {"field": "label"}}
        }
      ]
    }
  ],
  "resolve": {"scale": {"x": "independent", "y": "independent"}}
}
